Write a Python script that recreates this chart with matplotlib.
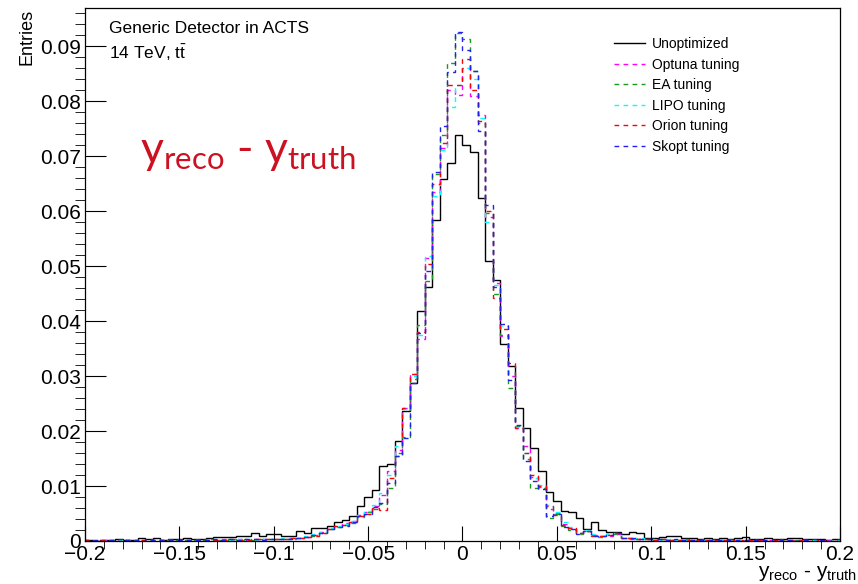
import numpy as np
import matplotlib
matplotlib.use("Agg")
from matplotlib import pyplot as plt
from matplotlib.lines import Line2D

plt.rcParams['font.family'] = ['Liberation Sans', 'DejaVu Sans']
plt.rcParams['mathtext.fontset'] = 'custom'
plt.rcParams['mathtext.rm'] = 'Lato'

# 100 bins from -0.2 to 0.2
edges = np.linspace(-0.2, 0.2, 101)

unoptimized = [
    0.0001, 0.0000, 0.0002, 0.0001, 0.0003, 0.0002, 0.0002, 0.0005, 0.0003, 0.0006,
    0.0002, 0.0003, 0.0004, 0.0006, 0.0003, 0.0004, 0.0005, 0.0007, 0.0007, 0.0008,
    0.0009, 0.0009, 0.0014, 0.0009, 0.0013, 0.0013, 0.0010, 0.0010, 0.0019, 0.0014,
    0.0023, 0.0023, 0.0028, 0.0035, 0.0038, 0.0046, 0.0064, 0.0080, 0.0092, 0.0137,
    0.0140, 0.0182, 0.0236, 0.0288, 0.0419, 0.0463, 0.0585, 0.0658, 0.0688, 0.0738,
    0.0720, 0.0708, 0.0624, 0.0509, 0.0475, 0.0359, 0.0319, 0.0242, 0.0206, 0.0170,
    0.0128, 0.0089, 0.0073, 0.0055, 0.0053, 0.0042, 0.0022, 0.0034, 0.0020, 0.0017,
    0.0017, 0.0013, 0.0017, 0.0015, 0.0006, 0.0005, 0.0008, 0.0010, 0.0010, 0.0005,
    0.0006, 0.0004, 0.0005, 0.0003, 0.0006, 0.0004, 0.0005, 0.0007, 0.0003, 0.0004,
    0.0005, 0.0003, 0.0004, 0.0006, 0.0005, 0.0003, 0.0004, 0.0003, 0.0002, 0.0003,
]

optuna = [
    0.0000, 0.0000, 0.0001, 0.0000, 0.0001, 0.0000, 0.0001, 0.0001, 0.0000, 0.0001,
    0.0002, 0.0001, 0.0001, 0.0002, 0.0001, 0.0002, 0.0002, 0.0002, 0.0003, 0.0002,
    0.0003, 0.0002, 0.0003, 0.0004, 0.0003, 0.0004, 0.0004, 0.0005, 0.0006, 0.0008,
    0.0011, 0.0016, 0.0022, 0.0028, 0.0032, 0.0036, 0.0047, 0.0053, 0.0064, 0.0084,
    0.0128, 0.0165, 0.0242, 0.0304, 0.0367, 0.0515, 0.0635, 0.0715, 0.0820, 0.0812,
    0.0860, 0.0809, 0.0776, 0.0590, 0.0470, 0.0373, 0.0300, 0.0205, 0.0172, 0.0117,
    0.0098, 0.0058, 0.0051, 0.0031, 0.0024, 0.0014, 0.0018, 0.0011, 0.0010, 0.0010,
    0.0013, 0.0005, 0.0004, 0.0004, 0.0003, 0.0002, 0.0003, 0.0002, 0.0002, 0.0001,
    0.0002, 0.0001, 0.0001, 0.0002, 0.0001, 0.0001, 0.0002, 0.0001, 0.0000, 0.0001,
    0.0001, 0.0001, 0.0000, 0.0001, 0.0000, 0.0001, 0.0000, 0.0000, 0.0001, 0.0000,
]

ea = [
    0.0001, 0.0000, 0.0000, 0.0001, 0.0000, 0.0001, 0.0000, 0.0001, 0.0001, 0.0000,
    0.0001, 0.0002, 0.0001, 0.0001, 0.0002, 0.0001, 0.0003, 0.0002, 0.0002, 0.0003,
    0.0002, 0.0003, 0.0002, 0.0003, 0.0004, 0.0003, 0.0004, 0.0004, 0.0005, 0.0007,
    0.0010, 0.0014, 0.0022, 0.0025, 0.0030, 0.0033, 0.0044, 0.0052, 0.0058, 0.0067,
    0.0096, 0.0160, 0.0190, 0.0295, 0.0393, 0.0474, 0.0667, 0.0738, 0.0870, 0.0925,
    0.0913, 0.0855, 0.0760, 0.0597, 0.0450, 0.0375, 0.0279, 0.0210, 0.0150, 0.0097,
    0.0097, 0.0042, 0.0049, 0.0028, 0.0020, 0.0012, 0.0018, 0.0011, 0.0008, 0.0012,
    0.0013, 0.0005, 0.0005, 0.0003, 0.0004, 0.0002, 0.0003, 0.0002, 0.0002, 0.0003,
    0.0001, 0.0002, 0.0001, 0.0001, 0.0002, 0.0001, 0.0001, 0.0000, 0.0001, 0.0001,
    0.0000, 0.0001, 0.0001, 0.0000, 0.0001, 0.0000, 0.0001, 0.0000, 0.0000, 0.0001,
]

lipo = [
    0.0000, 0.0001, 0.0000, 0.0001, 0.0001, 0.0000, 0.0001, 0.0000, 0.0001, 0.0001,
    0.0001, 0.0001, 0.0002, 0.0001, 0.0002, 0.0002, 0.0001, 0.0003, 0.0002, 0.0002,
    0.0003, 0.0003, 0.0002, 0.0003, 0.0003, 0.0004, 0.0005, 0.0004, 0.0006, 0.0009,
    0.0012, 0.0016, 0.0023, 0.0027, 0.0031, 0.0037, 0.0048, 0.0055, 0.0066, 0.0087,
    0.0120, 0.0172, 0.0240, 0.0300, 0.0375, 0.0518, 0.0628, 0.0712, 0.0790, 0.0830,
    0.0860, 0.0840, 0.0770, 0.0581, 0.0465, 0.0392, 0.0305, 0.0207, 0.0161, 0.0115,
    0.0102, 0.0065, 0.0052, 0.0034, 0.0025, 0.0015, 0.0020, 0.0012, 0.0010, 0.0012,
    0.0015, 0.0006, 0.0004, 0.0005, 0.0003, 0.0003, 0.0002, 0.0003, 0.0002, 0.0002,
    0.0001, 0.0002, 0.0001, 0.0002, 0.0001, 0.0001, 0.0001, 0.0002, 0.0001, 0.0000,
    0.0001, 0.0000, 0.0001, 0.0001, 0.0000, 0.0001, 0.0001, 0.0000, 0.0000, 0.0001,
]

orion = [
    0.0001, 0.0000, 0.0001, 0.0000, 0.0000, 0.0001, 0.0000, 0.0001, 0.0001, 0.0001,
    0.0001, 0.0001, 0.0002, 0.0001, 0.0001, 0.0002, 0.0002, 0.0001, 0.0002, 0.0003,
    0.0002, 0.0002, 0.0003, 0.0003, 0.0004, 0.0003, 0.0003, 0.0005, 0.0006, 0.0007,
    0.0010, 0.0015, 0.0021, 0.0027, 0.0029, 0.0034, 0.0045, 0.0050, 0.0060, 0.0057,
    0.0115, 0.0155, 0.0242, 0.0304, 0.0380, 0.0505, 0.0650, 0.0725, 0.0830, 0.0829,
    0.0878, 0.0821, 0.0765, 0.0600, 0.0443, 0.0385, 0.0324, 0.0205, 0.0160, 0.0120,
    0.0100, 0.0064, 0.0048, 0.0030, 0.0023, 0.0014, 0.0019, 0.0010, 0.0009, 0.0011,
    0.0014, 0.0006, 0.0005, 0.0004, 0.0003, 0.0002, 0.0003, 0.0002, 0.0001, 0.0002,
    0.0002, 0.0001, 0.0001, 0.0001, 0.0002, 0.0001, 0.0000, 0.0001, 0.0001, 0.0001,
    0.0000, 0.0001, 0.0000, 0.0001, 0.0001, 0.0000, 0.0000, 0.0001, 0.0000, 0.0000,
]

skopt = [
    0.0000, 0.0001, 0.0000, 0.0001, 0.0000, 0.0001, 0.0001, 0.0000, 0.0002, 0.0001,
    0.0001, 0.0002, 0.0001, 0.0002, 0.0002, 0.0001, 0.0002, 0.0003, 0.0002, 0.0003,
    0.0002, 0.0003, 0.0003, 0.0002, 0.0004, 0.0003, 0.0003, 0.0004, 0.0006, 0.0008,
    0.0011, 0.0015, 0.0021, 0.0026, 0.0028, 0.0035, 0.0046, 0.0050, 0.0062, 0.0070,
    0.0105, 0.0155, 0.0187, 0.0287, 0.0379, 0.0491, 0.0671, 0.0755, 0.0854, 0.0927,
    0.0893, 0.0855, 0.0746, 0.0612, 0.0462, 0.0395, 0.0293, 0.0212, 0.0146, 0.0110,
    0.0095, 0.0046, 0.0050, 0.0025, 0.0022, 0.0013, 0.0019, 0.0010, 0.0009, 0.0011,
    0.0014, 0.0006, 0.0005, 0.0004, 0.0003, 0.0003, 0.0004, 0.0002, 0.0003, 0.0002,
    0.0002, 0.0001, 0.0002, 0.0001, 0.0002, 0.0001, 0.0001, 0.0002, 0.0001, 0.0001,
    0.0001, 0.0000, 0.0001, 0.0001, 0.0000, 0.0001, 0.0000, 0.0001, 0.0000, 0.0000,
]

labels = ['Unoptimized', 'Optuna tuning', 'EA tuning', 'LIPO tuning', 'Orion tuning', 'Skopt tuning']
series = [unoptimized, optuna, ea, lipo, orion, skopt]
colors = ['black', '#ff00ff', '#1a9a1a', '#00ffff', '#ff0000', '#2020f0']
dashed = (0, (3.4, 3.1))

fig = plt.figure(figsize=(8.58, 5.84), dpi=100)
ax = fig.add_axes([85/858, 43/584, 755/858, 533/584])

handles = []
for vals, lab, col in zip(series, labels, colors):
    ls = '-' if lab == 'Unoptimized' else dashed
    ax.stairs(vals, edges, color=col, lw=1.0, linestyle=ls)
    handles.append(Line2D([], [], color=col, lw=1.0, linestyle=ls))

ax.set_xlim(-0.2, 0.2)
ax.set_ylim(0, 0.097)
ax.set_xticks(np.arange(-0.2, 0.201, 0.05))
ax.set_xticklabels(['\u22120.2', '\u22120.15', '\u22120.1', '\u22120.05', '0', '0.05', '0.1', '0.15', '0.2'])
ax.set_xticks(np.arange(-0.2, 0.201, 0.01), minor=True)
ax.set_yticks(np.arange(0, 0.091, 0.01))
ax.set_yticklabels(['0', '0.01', '0.02', '0.03', '0.04', '0.05', '0.06', '0.07', '0.08', '0.09'])
ax.set_yticks(np.arange(0, 0.097, 0.002), minor=True)
ax.tick_params(axis='both', direction='in', labelsize=15, width=0.8)
ax.tick_params(axis='x', which='major', length=11, pad=3)
ax.tick_params(axis='x', which='minor', length=5.5)
ax.tick_params(axis='y', which='major', length=15, pad=3)
ax.tick_params(axis='y', which='minor', length=7.5)
for s in ax.spines.values():
    s.set_linewidth(0.9)

fig.text(27/858, 1 - 9/584, 'Entries', rotation=90, ha='center', va='top', fontsize=13)
fig.text(857/858, 1/584, r'$\mathregular{y_{reco}}$ - $\mathregular{y_{truth}}$',
         ha='right', va='bottom', fontsize=15)

ax.text(0.032, 0.975, 'Generic Detector in ACTS', transform=ax.transAxes,
        fontsize=12.5, va='top', ha='left')
ax.text(0.032, 0.935, r'14 TeV, $\mathregular{t\bar{t}}$', transform=ax.transAxes,
        fontsize=12.5, va='top', ha='left')

fig.text(140/858, 1 - 163/584, r'$\mathrm{y_{reco}}$ - $\mathrm{y_{truth}}$',
         color='#cc1122', fontsize=32, family='Lato', ha='left', va='baseline')

ax.legend(handles, labels, loc='upper left', bbox_to_anchor=(614/858, 1 - 37/584),
          bbox_transform=fig.transFigure, frameon=False, fontsize=10,
          handlelength=2.2, handletextpad=0.5, labelspacing=0.47, borderpad=0,
          borderaxespad=0)

fig.savefig('out.png', dpi=100)
